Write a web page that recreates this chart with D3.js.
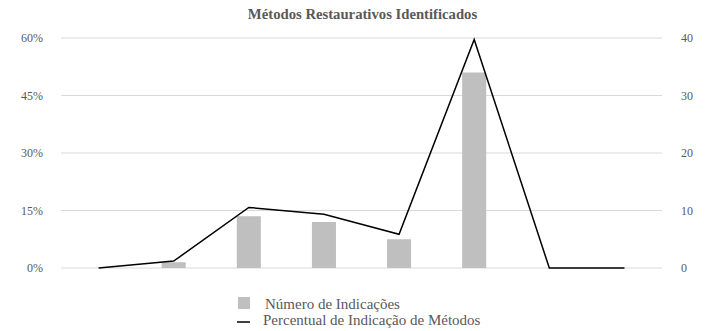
<!DOCTYPE html>
<html>
<head>
<meta charset="utf-8">
<script src="https://cdn.jsdelivr.net/npm/d3@7"></script>
<style>
  body { margin: 0; background: #fff; }
  svg text { font-family: "Liberation Serif", "Times New Roman", Times, serif; }
</style>
</head>
<body>
<div id="chart"></div>
<script>
// Métodos restaurativos: 8 categories, no labels shown on the axis
const categories = ['M1', 'M2', 'M3', 'M4', 'M5', 'M6', 'M7', 'M8'];
const indicacoes = [0, 1, 9, 8, 5, 34, 0, 0];
const percentual = [0, 1.8, 15.8, 14.0, 8.8, 59.6, 0, 0];
const leftTicks = [0, 15, 30, 45, 60];
const rightTicks = [0, 10, 20, 30, 40];

const width = 710, height = 331;
const margin = { top: 38, right: 48, bottom: 63, left: 61 };

const svg = d3.select('#chart')
  .append('svg')
  .attr('width', width)
  .attr('height', height);

const x = d3.scaleBand()
  .domain(categories)
  .range([margin.left, width - margin.right]);

const yLeft = d3.scaleLinear()
  .domain([0, 60])
  .range([height - margin.bottom, margin.top]);

const yRight = d3.scaleLinear()
  .domain([0, 40])
  .range([height - margin.bottom, margin.top]);

// gridlines
svg.append('g')
  .selectAll('line')
  .data(leftTicks)
  .join('line')
  .attr('x1', margin.left)
  .attr('x2', width - margin.right)
  .attr('y1', d => yLeft(d))
  .attr('y2', d => yLeft(d))
  .attr('stroke', '#d9d9d9')
  .attr('stroke-width', 1);

// left axis
const leftAxis = svg.append('g')
  .attr('transform', `translate(${margin.left - 15},0)`)
  .call(d3.axisLeft(yLeft).tickValues(leftTicks).tickSize(0).tickFormat(d => d + '%'));
leftAxis.select('.domain').remove();

// right axis
const rightAxis = svg.append('g')
  .attr('transform', `translate(${width - margin.right + 16},0)`)
  .call(d3.axisRight(yRight).tickValues(rightTicks).tickSize(0));
rightAxis.select('.domain').remove();

svg.selectAll('.tick text')
  .attr('fill', '#595959')
  .style('font-size', '12px');

// bars
const barW = x.bandwidth() * 0.32;
svg.append('g')
  .selectAll('rect')
  .data(indicacoes)
  .join('rect')
  .attr('x', (d, i) => x(categories[i]) + x.bandwidth() / 2 - barW / 2)
  .attr('width', barW)
  .attr('y', d => yRight(d))
  .attr('height', d => yRight(0) - yRight(d))
  .attr('fill', '#bfbfbf');

// line
const line = d3.line()
  .x((d, i) => x(categories[i]) + x.bandwidth() / 2)
  .y(d => yLeft(d));

svg.append('path')
  .datum(percentual)
  .attr('d', line)
  .attr('fill', 'none')
  .attr('stroke', '#000')
  .attr('stroke-width', 1.5)
  .attr('stroke-linejoin', 'miter');

// title
svg.append('text')
  .attr('x', 362.5)
  .attr('y', 19)
  .attr('text-anchor', 'middle')
  .attr('fill', '#595959')
  .style('font-size', '14.7px')
  .style('font-weight', 'bold')
  .text('Métodos Restaurativos Identificados');

// legend
const legend = svg.append('g');
legend.append('rect')
  .attr('x', 238).attr('y', 297)
  .attr('width', 12).attr('height', 12)
  .attr('fill', '#bfbfbf');
legend.append('text')
  .attr('x', 265).attr('y', 309)
  .attr('fill', '#595959')
  .style('font-size', '15px')
  .text('Número de Indicações');
legend.append('line')
  .attr('x1', 237).attr('x2', 250)
  .attr('y1', 322).attr('y2', 322)
  .attr('stroke', '#000')
  .attr('stroke-width', 1.5);
legend.append('text')
  .attr('x', 263).attr('y', 325)
  .attr('fill', '#595959')
  .style('font-size', '15px')
  .text('Percentual de Indicação de Métodos');
</script>
</body>
</html>
